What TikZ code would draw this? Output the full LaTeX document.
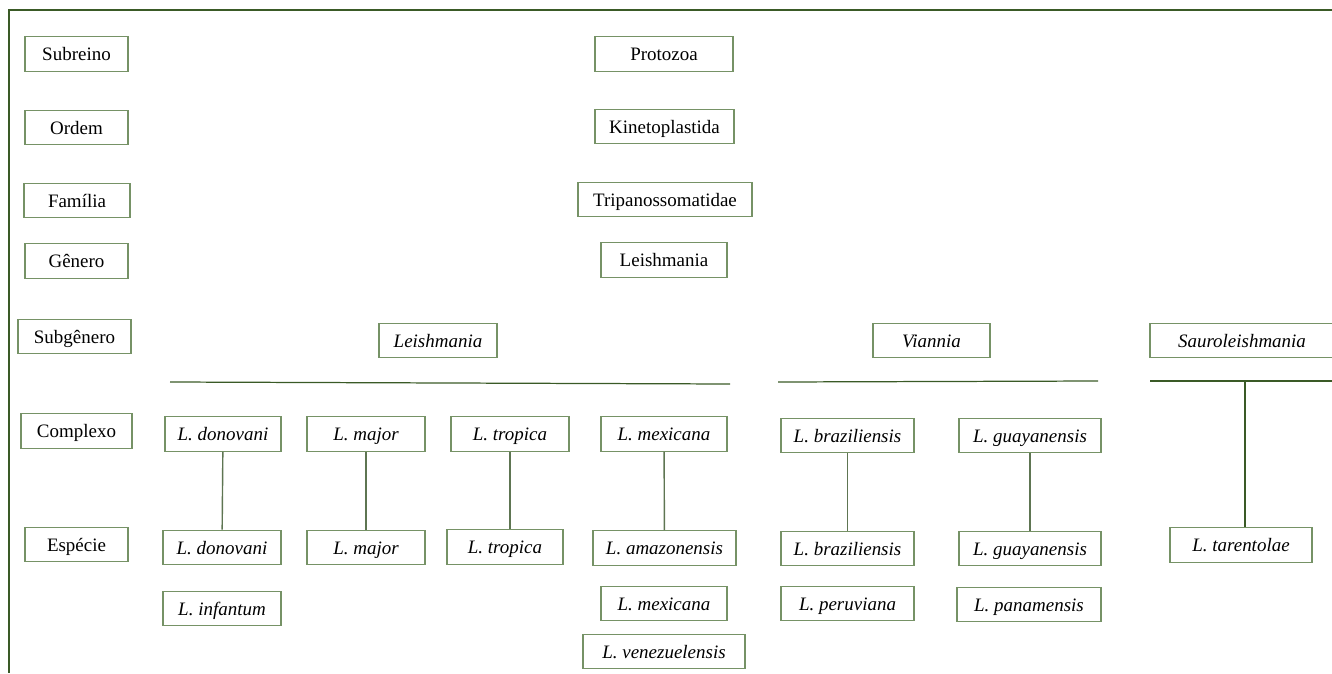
\documentclass[tikz,border=0pt]{standalone}
\usepackage{fontspec}
\setmainfont{Liberation Serif}
\definecolor{boxgreen}{RGB}{118,146,102}
\definecolor{darkgreen}{RGB}{58,90,38}
\begin{document}
\begin{tikzpicture}[x=0.02cm,y=-0.02cm]
\useasboundingbox (0,0) rectangle (1332,673);
\clip (0,0) rectangle (1332,673);

\tikzstyle{rank} = [draw=boxgreen, shape=rectangle, minimum height=0.69cm, inner sep=0pt, text height=0.30cm, text depth=0.04cm, line width=0.8pt, font=\fontsize{10.8}{13}\selectfont]
\tikzstyle{taxon} = [rank, font=\fontsize{10.8}{13}\selectfont\itshape]
\tikzstyle{bar} = [darkgreen, line width=0.7pt]
\tikzstyle{link} = [boxgreen!80!black, line width=0.8pt]

% Frame
\draw[darkgreen, line width=1pt] (1332,10) -- (9,10) -- (9,673);

% Ranks
\node at (76.5,54) [rank, minimum width=2.06cm] (subreino) {Subreino};
\node at (76.5,127.5) [rank, minimum width=2.06cm] (ordem) {Ordem};
\node at (77,200.5) [rank, minimum width=2.12cm] (familia) {Família};
\node at (76.5,261) [rank, minimum width=2.06cm] (genero) {Gênero};
\node at (74.5,336.5) [rank, minimum width=2.26cm] (subgenero) {Subgênero};
\node at (76.5,431) [rank, minimum width=2.22cm] (complexo) {Complexo};
\node at (76.5,544.5) [rank, minimum width=2.06cm] (especie) {Espécie};

% Upper taxa
\node at (664,54) [rank, minimum width=2.76cm] (protozoa) {Protozoa};
\node at (664.5,126.5) [rank, minimum width=2.78cm] (kineto) {Kinetoplastida};
\node at (665,199.5) [rank, minimum width=3.48cm] (tripano) {Tripanossomatidae};
\node at (664,260) [rank, minimum width=2.52cm] (leish) {Leishmania};

% Subgenera
\node at (438,340.5) [taxon, minimum width=2.36cm] (sgLeish) {Leishmania};
\node at (931.5,340.5) [taxon, minimum width=2.34cm] (sgVian) {Viannia};
\node at (1242,340.5) [taxon, minimum width=3.68cm] (sgSauro) {Sauroleishmania};

\coordinate (barA1) at (170,382);
\coordinate (barA2) at (730,384);
\coordinate (barB1) at (778,382);
\coordinate (barB2) at (1098,381);
\coordinate (barC1) at (1150,381);
\coordinate (barC2) at (1340,381);
\coordinate (barC0) at (1245,381);
\draw[bar] (barA1) -- (barA2);
\draw[bar] (barB1) -- (barB2);
\draw[bar] (barC1) -- (barC2);

% Complexes
\node at (223,434) [taxon, minimum width=2.32cm] (cDon) {L. donovani};
\node at (366,434) [taxon, minimum width=2.36cm] (cMaj) {L. major};
\node at (510,434) [taxon, minimum width=2.36cm] (cTro) {L. tropica};
\node at (664,434) [taxon, minimum width=2.52cm] (cMex) {L. mexicana};
\node at (847.5,435.5) [taxon, minimum width=2.66cm] (cBra) {L. braziliensis};
\node at (1030,435.5) [taxon, minimum width=2.84cm] (cGua) {L. guayanensis};

% Species
\node at (222,547.5) [taxon, minimum width=2.36cm] (sDon) {L. donovani};
\node at (222,608.5) [taxon, minimum width=2.36cm] (sInf) {L. infantum};
\node at (366,547.5) [taxon, minimum width=2.36cm] (sMaj) {L. major};
\node at (505,547) [taxon, minimum width=2.32cm] (sTro) {L. tropica};
\node at (664.5,548) [taxon, minimum width=2.86cm] (sAma) {L. amazonensis};
\node at (664,603.5) [taxon, minimum width=2.52cm] (sMex) {L. mexicana};
\node at (664,651.5) [taxon, minimum width=3.24cm] (sVen) {L. venezuelensis};
\node at (847.5,548.5) [taxon, minimum width=2.66cm] (sBra) {L. braziliensis};
\node at (847.5,603.5) [taxon, minimum width=2.66cm] (sPer) {L. peruviana};
\node at (1030,548.5) [taxon, minimum width=2.84cm] (sGua) {L. guayanensis};
\node at (1029,604.5) [taxon, minimum width=2.88cm] (sPan) {L. panamensis};
\node at (1241,545) [taxon, minimum width=2.84cm] (sTar) {L. tarentolae};

\draw[link] (cDon) -- (sDon);
\draw[link] (cMaj) -- (sMaj);
\draw[link] (cTro.south) -- (cTro.south |- sTro.north);
\draw[link] (cMex) -- (sAma);
\draw[link] (cBra) -- (sBra);
\draw[link] (cGua) -- (sGua);
\draw[bar] (barC0) -- (barC0 |- sTar.north);
\end{tikzpicture}
\end{document}
